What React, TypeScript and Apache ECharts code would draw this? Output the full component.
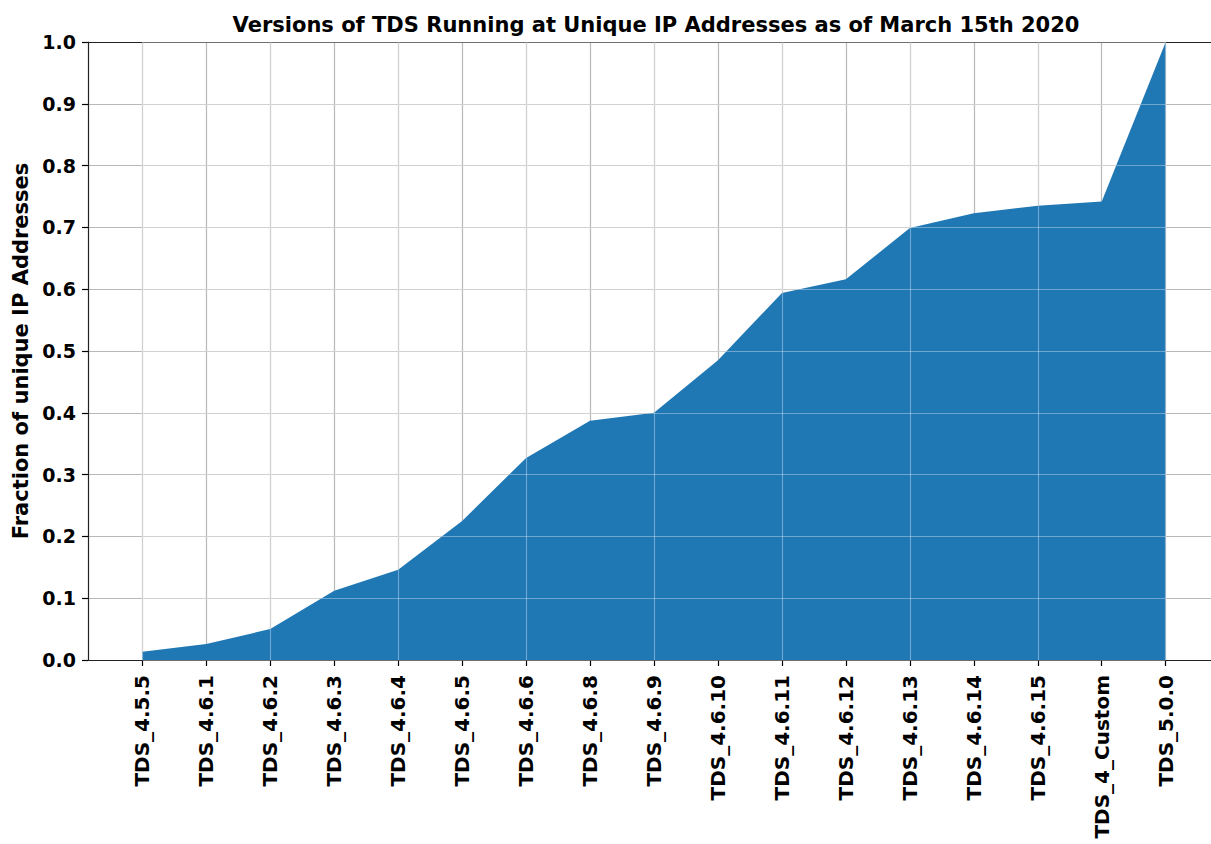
import React, { useEffect, useRef } from "react";
import * as echarts from "echarts";

const categories = [
  "TDS_4.5.5", "TDS_4.6.1", "TDS_4.6.2", "TDS_4.6.3", "TDS_4.6.4", "TDS_4.6.5",
  "TDS_4.6.6", "TDS_4.6.8", "TDS_4.6.9", "TDS_4.6.10", "TDS_4.6.11", "TDS_4.6.12",
  "TDS_4.6.13", "TDS_4.6.14", "TDS_4.6.15", "TDS_4_Custom", "TDS_5.0.0",
];
const fractions = [
  0.0134, 0.026, 0.05, 0.112, 0.146, 0.225, 0.327, 0.387, 0.4, 0.485, 0.594,
  0.616, 0.699, 0.723, 0.735, 0.742, 1.0,
];
const yTicks = { min: 0, max: 1, interval: 0.1 };

const FONT = "DejaVu Sans";
const GRAY = "#b8b8b8";
const OVER = "rgba(255,255,255,0.35)";
const SPINE = { show: true, lineStyle: { color: "#222", width: 1.2 } };

export default function App() {
  const ref = useRef<HTMLDivElement>(null);
  useEffect(() => {
    if (!ref.current) return;
    const chart = echarts.init(ref.current, null, { renderer: "svg" });
    const W = 1211;
    const plotLeft = 88;
    const firstX = 142.3;
    const lastX = 1165.7;
    const top = 42;
    const bottom = 844 - 660;
    const hidden = { axisTick: { show: false }, axisLabel: { show: false }, splitLine: { show: false } };
    chart.setOption({
      animation: false,
      backgroundColor: "#ffffff",
      title: {
        text: "Versions of TDS Running at Unique IP Addresses as of March 15th 2020",
        left: 651,
        top: 9,
        textAlign: "center",
        textStyle: { fontFamily: FONT, fontWeight: "bold", fontSize: 21, color: "#000" },
      },
      grid: [
        { left: plotLeft, right: 0, top, bottom },
        { left: firstX, right: W - lastX, top, bottom },
      ],
      xAxis: [
        { gridIndex: 0, type: "value", min: 0, max: 1, position: "bottom", axisLine: SPINE, ...hidden },
        { gridIndex: 0, type: "value", min: 0, max: 1, position: "top", axisLine: SPINE, ...hidden },
        {
          gridIndex: 1, type: "category", data: categories, boundaryGap: false,
          axisLine: { show: false },
          axisTick: { show: true, alignWithLabel: true, length: 6, lineStyle: { color: "#000", width: 1.2 } },
          axisLabel: {
            rotate: 90, interval: 0, margin: 15, color: "#000",
            fontFamily: FONT, fontWeight: "bold", fontSize: 20,
          },
          splitLine: { show: true, lineStyle: { color: GRAY, width: 1.2 } },
        },
        {
          gridIndex: 1, type: "category", data: categories, boundaryGap: false, z: 10,
          axisLine: { show: false }, axisTick: { show: false }, axisLabel: { show: false },
          splitLine: { show: true, lineStyle: { color: OVER, width: 1.2 } },
        },
      ],
      yAxis: [
        {
          gridIndex: 0, type: "value", ...yTicks,
          name: "Fraction of unique IP Addresses",
          nameLocation: "middle", nameRotate: 90, nameGap: 56,
          nameTextStyle: { fontFamily: FONT, fontWeight: "bold", fontSize: 21, color: "#000" },
          axisLine: SPINE,
          axisTick: { show: true, length: 6, lineStyle: { color: "#000", width: 1.2 } },
          axisLabel: {
            color: "#000", fontFamily: FONT, fontWeight: "bold", fontSize: 19, margin: 12,
            formatter: (v: number) => v.toFixed(1),
          },
          splitLine: { show: true, lineStyle: { color: GRAY, width: 1.2 } },
        },
        {
          gridIndex: 1, type: "value", ...yTicks, show: false,
          splitLine: { show: false },
        },
        {
          gridIndex: 1, type: "value", ...yTicks, z: 10,
          axisLine: { show: false }, axisTick: { show: false }, axisLabel: { show: false },
          splitLine: { show: true, lineStyle: { color: OVER, width: 1.2 } },
        },
      ],
      series: [
        {
          type: "line",
          xAxisIndex: 2,
          yAxisIndex: 1,
          data: fractions,
          showSymbol: false,
          symbol: "none",
          lineStyle: { width: 0 },
          areaStyle: { color: "#1f77b4", opacity: 1 },
          z: 2,
        },
      ],
    });
    return () => chart.dispose();
  }, []);
  return (
    <div
      ref={ref}
      style={{ position: "absolute", left: 0, top: 0, width: 1211, height: 844 }}
    />
  );
}
